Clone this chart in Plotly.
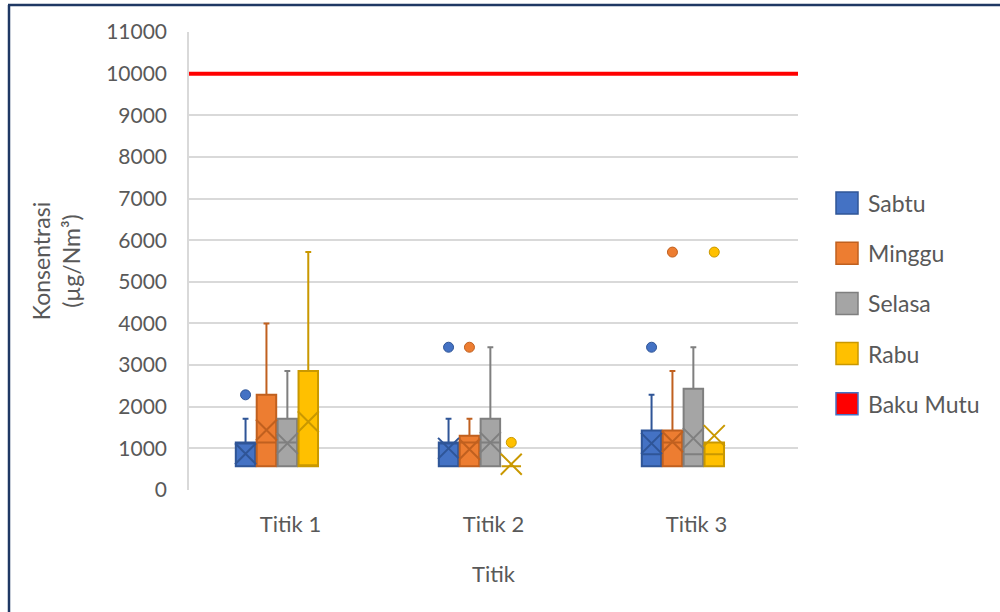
import plotly.graph_objects as go

# ---------------- data (µg/Nm³) ----------------
categories = ["Titik 1", "Titik 2", "Titik 3"]
series = ["Sabtu", "Minggu", "Selasa", "Rabu"]

sabtu_q1 = [571, 571, 571]
sabtu_median = [1143, 1143, 857]
sabtu_q3 = [1143, 1143, 1429]
sabtu_low = [571, 571, 571]
sabtu_high = [1714, 1714, 2286]
sabtu_mean = [870, 1000, 1120]
sabtu_outliers = [[2286], [3429], [3429]]

minggu_q1 = [571, 571, 571]
minggu_median = [1143, 1143, 1143]
minggu_q3 = [2286, 1300, 1429]
minggu_low = [571, 571, 571]
minggu_high = [4000, 1714, 2857]
minggu_mean = [1440, 980, 1160]
minggu_outliers = [[], [3429], [5714]]

selasa_q1 = [571, 571, 571]
selasa_median = [1143, 1143, 857]
selasa_q3 = [1714, 1714, 2429]
selasa_low = [571, 571, 571]
selasa_high = [2857, 3429, 3429]
selasa_mean = [1120, 1137, 1240]
selasa_outliers = [[], [], []]

rabu_q1 = [571, 571, 571]
rabu_median = [571, 571, 857]
rabu_q3 = [2857, 571, 1143]
rabu_low = [571, 571, 571]
rabu_high = [5714, 571, 1143]
rabu_mean = [1641, 620, 1305]
rabu_outliers = [[], [1143], [5714]]

baku_mutu = 10000
baku_label = "Baku Mutu"

y_ticks = list(range(0, 11001, 1000))

# ---------------- styles ----------------
fills = ["#4472C4", "#ED7D31", "#A5A5A5", "#FFC000"]
edges = ["#2F5597", "#C0601F", "#7F7F7F", "#C99800"]
FONT = "Lato, 'Open Sans', sans-serif"
TXT = "#595959"

stats = [
    (sabtu_q1, sabtu_median, sabtu_q3, sabtu_low, sabtu_high, sabtu_mean, sabtu_outliers),
    (minggu_q1, minggu_median, minggu_q3, minggu_low, minggu_high, minggu_mean, minggu_outliers),
    (selasa_q1, selasa_median, selasa_q3, selasa_low, selasa_high, selasa_mean, selasa_outliers),
    (rabu_q1, rabu_median, rabu_q3, rabu_low, rabu_high, rabu_mean, rabu_outliers),
]

W, H = 1000, 612
L, R, T, B = 189, 202, 32, 122
PW = W - L - R
PH = H - T - B


def px_x(p):
    return (p - L) / PW


def px_y(p):
    return 1 - (p - T) / PH


slot = 0.103
box_w = 0.096
fig = go.Figure()

for si, name in enumerate(series):
    q1, med, q3, lo, hi, mean, outs = stats[si]
    xs = [ci + (si - 2.15) * slot for ci in range(len(categories))]
    fig.add_trace(go.Box(
        x=xs, q1=q1, median=med, q3=q3, lowerfence=lo, upperfence=hi,
        width=box_w, whiskerwidth=0.3, name=name,
        fillcolor=fills[si], line=dict(color=edges[si], width=2),
        boxpoints=False, showlegend=False, hoverinfo="skip",
    ))
    # mean markers (X)
    fig.add_trace(go.Scatter(
        x=xs, y=mean, mode="markers", showlegend=False, hoverinfo="skip",
        marker=dict(symbol="x-thin", size=21, line=dict(color=edges[si], width=2)),
    ))
    # outliers
    ox, oy = [], []
    for ci, vals in enumerate(outs):
        for v in vals:
            ox.append(xs[ci])
            oy.append(v)
    if ox:
        fig.add_trace(go.Scatter(
            x=ox, y=oy, mode="markers", showlegend=False, hoverinfo="skip",
            marker=dict(symbol="circle", size=10, color=fills[si],
                        line=dict(color=edges[si], width=1)),
        ))

# Baku Mutu line
fig.add_trace(go.Scatter(
    x=[-0.5, len(categories) - 0.5], y=[baku_mutu, baku_mutu], mode="lines",
    line=dict(color="#FF0000", width=4), showlegend=False, hoverinfo="skip",
))

# ---------------- custom legend ----------------
legend_names = series + [baku_label]
legend_fill = fills + ["#FF0000"]
legend_edge = edges + ["#4472C4"]
shapes = []
annotations = []
for i, nm in enumerate(legend_names):
    cy = 203 + i * 50.2
    shapes.append(dict(type="rect", xref="paper", yref="paper",
                       x0=px_x(836), x1=px_x(858), y0=px_y(cy + 11), y1=px_y(cy - 11),
                       fillcolor=legend_fill[i], line=dict(color=legend_edge[i], width=1.5)))
    annotations.append(dict(xref="paper", yref="paper", x=px_x(866), y=px_y(cy),
                            text=nm, showarrow=False, xanchor="left", yanchor="middle",
                            font=dict(family=FONT, size=23, color=TXT)))

# frame (left & top)
shapes.append(dict(type="line", xref="paper", yref="paper",
                   x0=px_x(9), x1=px_x(9), y0=px_y(5), y1=px_y(H + 5),
                   line=dict(color="#1F3864", width=2.5)))
shapes.append(dict(type="line", xref="paper", yref="paper",
                   x0=px_x(8), x1=px_x(W + 5), y0=px_y(5), y1=px_y(5),
                   line=dict(color="#1F3864", width=2.5)))

fig.update_layout(
    width=W, height=H,
    margin=dict(l=L, r=R, t=T, b=B, pad=0),
    paper_bgcolor="white", plot_bgcolor="white",
    boxmode="overlay",
    font=dict(family=FONT, size=21, color=TXT),
    shapes=shapes, annotations=annotations,
    showlegend=False,
    xaxis=dict(
        range=[-0.5, len(categories) - 0.5],
        tickmode="array", tickvals=list(range(len(categories))), ticktext=categories,
        showgrid=False, zeroline=False, showline=False, ticks="",
        ticklabelstandoff=19,
        title=dict(text="Titik", standoff=30, font=dict(size=22, color=TXT)),
        tickfont=dict(size=22, color=TXT),
    ),
    yaxis=dict(
        range=[0, 11000], tickmode="array", tickvals=y_ticks, tickformat="d",
        showgrid=True, gridcolor="#D9D9D9", gridwidth=1.5,
        zeroline=False, showline=True, linecolor="#D9D9D9", linewidth=1.5,
        ticks="", ticklabelstandoff=16,
        tickfont=dict(size=21, color=TXT),
        title=dict(text="Konsentrasi<br>(µg/Nm³)", standoff=19, font=dict(size=23, color=TXT)),
    ),
)

fig.write_html("out.html", config={"displayModeBar": False},
               post_script="document.body.style.margin='0px';document.body.style.padding='0px';")
